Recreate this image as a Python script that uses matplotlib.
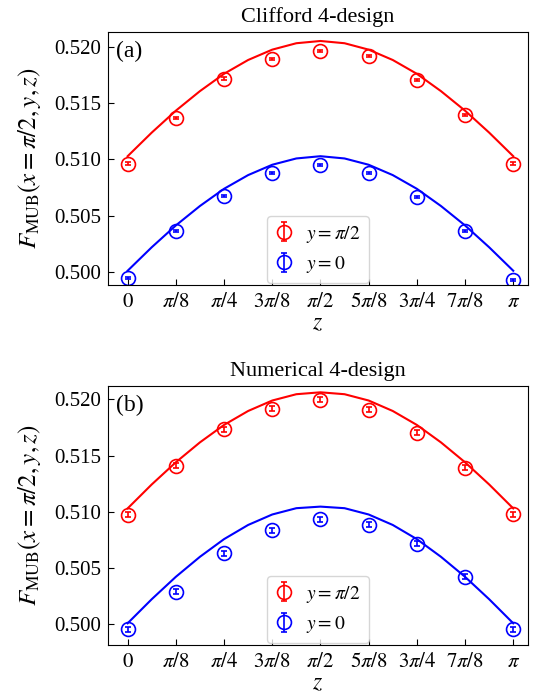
import numpy as np
import matplotlib
matplotlib.use("Agg")
import matplotlib.pyplot as plt

plt.rcParams.update({
    "font.family": ["Liberation Serif", "DejaVu Serif"],
    "mathtext.fontset": "stix",
    "font.size": 15,
})

# z positions of the measured points (multiples of pi/8)
z_pts = np.arange(9) * np.pi / 8
z_labels = [r"$0$", r"$\pi/8$", r"$\pi/4$", r"$3\pi/8$", r"$\pi/2$",
            r"$5\pi/8$", r"$3\pi/4$", r"$7\pi/8$", r"$\pi$"]

# (a) Clifford 4-design
a_red = [0.50963, 0.51369, 0.51719, 0.51896, 0.51964, 0.51917, 0.51704, 0.51393, 0.50963]
a_blue = [0.49947, 0.50364, 0.50676, 0.50880, 0.50948, 0.50880, 0.50667, 0.50361, 0.49926]
a_err = 0.0001

# (b) Numerical 4-design
b_red = [0.50972, 0.51410, 0.51733, 0.51914, 0.51994, 0.51905, 0.51704, 0.51393, 0.50978]
b_blue = [0.49956, 0.50290, 0.50631, 0.50836, 0.50933, 0.50883, 0.50717, 0.50424, 0.49956]
b_err = 0.00022

# theory curves, read every pi/16
z_curve = np.arange(17) * np.pi / 16
a_red_curve = [0.51028, 0.51238, 0.51433, 0.51607, 0.51761, 0.51884, 0.51976, 0.52033, 0.52053,
               0.52033, 0.51976, 0.51884, 0.51761, 0.51607, 0.51433, 0.51238, 0.51028]
a_blue_curve = [0.50009, 0.50218, 0.50412, 0.50585, 0.50738, 0.50860, 0.50952, 0.51008, 0.51028,
                0.51008, 0.50952, 0.50860, 0.50738, 0.50585, 0.50412, 0.50218, 0.50009]
b_red_curve = [0.51030, 0.51243, 0.51440, 0.51617, 0.51772, 0.51896, 0.51989, 0.52045, 0.52062,
               0.52045, 0.51989, 0.51896, 0.51772, 0.51617, 0.51440, 0.51243, 0.51030]
b_blue_curve = [0.50009, 0.50223, 0.50422, 0.50600, 0.50757, 0.50883, 0.50976, 0.51032, 0.51046,
                0.51032, 0.50976, 0.50883, 0.50757, 0.50600, 0.50422, 0.50223, 0.50009]

panels = [
    ("Clifford 4-design", "(a)", a_red, a_blue, a_err, a_red_curve, a_blue_curve, (0.49882, 0.52133)),
    ("Numerical 4-design", "(b)", b_red, b_blue, b_err, b_red_curve, b_blue_curve, (0.49816, 0.52118)),
]

fig = plt.figure(figsize=(5.37, 6.94), dpi=100)
rects = [[0.2011, 0.5893, 0.7821, 0.3646], [0.2011, 0.0706, 0.7821, 0.3732]]

for rect, (title, tag, red, blue, err, red_c, blue_c, ylim) in zip(rects, panels):
    ax = fig.add_axes(rect)
    ax.plot(z_curve, red_c, color="red", lw=1.5)
    ax.plot(z_curve, blue_c, color="blue", lw=1.5)
    ax.errorbar(z_pts, red, yerr=err, fmt="o", color="red", mfc="none", ms=10,
                mew=1.2, capsize=2.5, elinewidth=1.2, label=r"$y=\pi/2$")
    ax.errorbar(z_pts, blue, yerr=err, fmt="o", color="blue", mfc="none", ms=10,
                mew=1.2, capsize=2.5, elinewidth=1.2, label=r"$y=0$")
    ax.set_xlim(-0.16, np.pi + 0.12)
    ax.set_ylim(*ylim)
    ax.set_xticks(z_pts)
    ax.set_xticklabels(z_labels)
    ax.set_yticks([0.500, 0.505, 0.510, 0.515, 0.520])
    ax.set_yticklabels(["0.500", "0.505", "0.510", "0.515", "0.520"])
    ax.tick_params(direction="in", length=4, labelsize=15)
    ax.tick_params(axis="x", pad=6)
    ax.tick_params(axis="y", pad=5)
    ax.set_xlabel(r"$z$", fontsize=17, labelpad=1)
    ax.set_ylabel(r"$F_{\mathrm{MUB}}(x=\pi/2,y,z)$", fontsize=18, labelpad=8)
    ax.set_title(title, fontsize=16, pad=7)
    ax.text(0.02, 0.965, tag, transform=ax.transAxes, ha="left", va="top", fontsize=17)
    ax.legend(loc="lower center", bbox_to_anchor=(0.5, 0.0), borderaxespad=0.1,
              fontsize=14, handlelength=0.9, handletextpad=0.7, borderpad=0.4)

fig.savefig("out.png", dpi=100)
